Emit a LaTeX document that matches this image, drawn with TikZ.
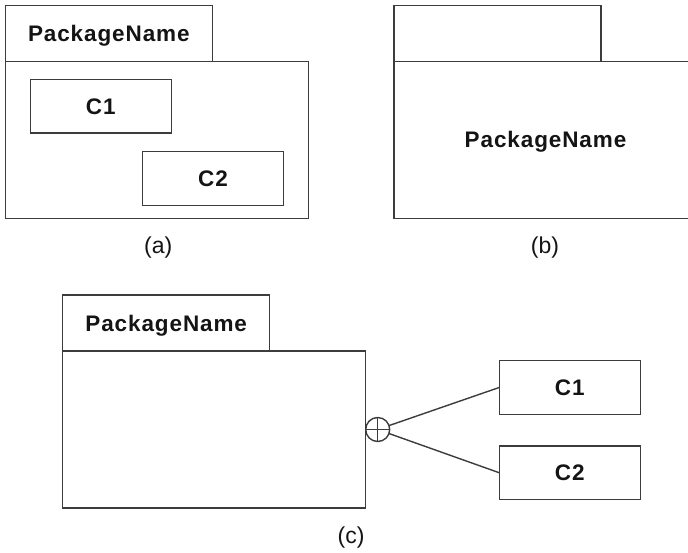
\documentclass[tikz,border=0pt]{standalone}
\usepackage{fontspec}
\setmainfont{Liberation Sans}
\newfontfamily\boldsans[LetterSpace=4]{Liberation Sans Bold}
\definecolor{linegray}{HTML}{3C3C3C}
\definecolor{txt}{HTML}{141414}
\begin{document}
\begin{tikzpicture}[x=1pt,y=-1pt,
  box/.style={draw=linegray, line width=1.4pt, inner sep=0pt, outer sep=0pt, anchor=north west},
  pkgtab/.style={box, minimum width=207pt, minimum height=56pt},
  pkgbody/.style={box, minimum width=303pt, minimum height=157pt},
  cls/.style={box, minimum width=141pt, minimum height=53.5pt},
  boldtxt/.style={text=txt, font=\boldsans\fontsize{22.5}{26}\selectfont, text height=16pt, text depth=0pt},
  lbl/.style={text=txt, inner sep=0pt, font=\fontsize{23}{26}\selectfont},
  link/.style={draw=linegray, line width=1.4pt},
  pluscirc/.style={circle, draw=linegray, line width=1.4pt, minimum size=24pt, inner sep=0pt, outer sep=0pt}
]
\useasboundingbox (0,0) rectangle (688,552);
% (a)
\node[pkgbody] (abody) at (5.3,61.3) {};
\node[pkgtab, boldtxt] (atab) at (5.3,5.3) {PackageName};
\node[cls, boldtxt] (ac1) at (30.3,79.3) {C1};
\node[cls, boldtxt] (ac2) at (142.5,151.7) {C2};
\node[lbl] (alab) at (158.3,248) {(a)};
% (b)
\node[pkgbody, boldtxt] (bbody) at (394,61.3) {PackageName};
\node[pkgtab] (btab) at (394,5.3) {};
\node[lbl] (blab) at (545,248) {(b)};
% (c)
\node[pkgbody] (cbody) at (62.7,351) {};
\node[pkgtab, boldtxt] (ctab) at (62.7,295) {PackageName};
\node[pluscirc, anchor=west] (pc) at (cbody.east) {};
\draw[link] (pc.north) -- (pc.south) (pc.west) -- (pc.east);
\node[cls, boldtxt] (cc1) at (499.3,360.7) {C1};
\node[cls, boldtxt] (cc2) at (499.3,446) {C2};
\draw[link] (pc) -- (cc1.west);
\draw[link] (pc) -- (cc2.west);
\node[lbl] (clab) at (351,538) {(c)};
\end{tikzpicture}
\end{document}
